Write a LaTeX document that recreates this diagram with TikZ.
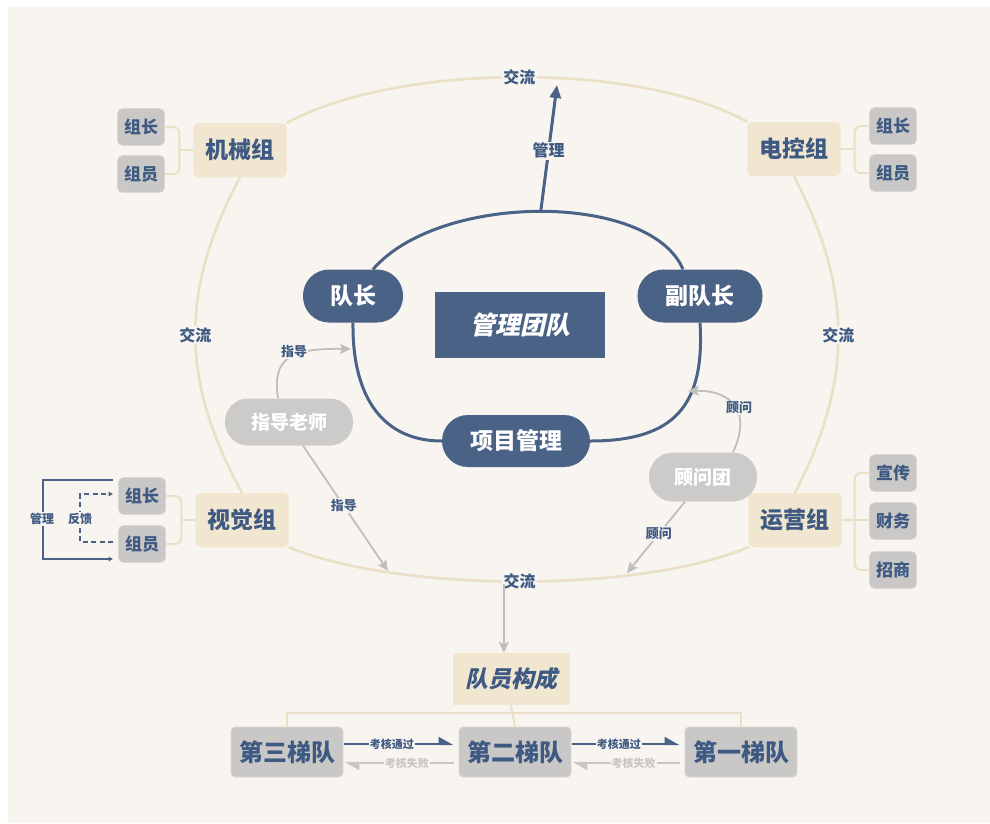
\documentclass[tikz,border=0pt]{standalone}
\usepackage{fontspec}
\setmainfont{Noto Sans CJK SC}
\newfontfamily\slcjk{Noto Sans CJK SC}[FakeSlant=0.22]
\usetikzlibrary{arrows.meta,calc}
\definecolor{bgc}{HTML}{F8F5F1}
\definecolor{navy}{HTML}{4B6287}
\definecolor{txtblue}{HTML}{3E5A82}
\definecolor{beigebox}{HTML}{F1E7D1}
\definecolor{beigeline}{HTML}{EAE0C6}
\definecolor{graybox}{HTML}{C9C8C6}
\definecolor{grayedge}{HTML}{DAD8D4}
\definecolor{graypill}{HTML}{CDCBCA}
\definecolor{grayline}{HTML}{BFBEBC}
\definecolor{faintgray}{HTML}{C8C6C3}
\newcommand{\fsz}[1]{\fontsize{#1}{#1}\selectfont}
\begin{document}
\begin{tikzpicture}[x=1pt,y=-1pt,
  grp/.style={fill=beigebox, rounded corners=5pt, minimum width=93pt, minimum height=54pt, inner sep=0pt, text=txtblue, font=\fsz{23}\bfseries},
  sub/.style={fill=graybox, draw=grayedge, line width=0.8pt, rounded corners=5pt, minimum width=47pt, minimum height=37pt, inner sep=0pt, text=txtblue, font=\fsz{17}\bfseries},
  pill/.style={fill=navy, rounded corners=26pt, minimum height=53pt, inner sep=0pt, text=white, font=\fsz{23}\bfseries},
  gpill/.style={fill=graypill, rounded corners=23pt, minimum height=47pt, inner sep=0pt, text=white, font=\fsz{19}\bfseries},
  tier/.style={fill=graybox, draw=grayedge, line width=0.8pt, rounded corners=4pt, minimum width=112pt, minimum height=50pt, inner sep=0pt, text=txtblue, font=\fsz{24}\bfseries},
  lbl/.style={fill=bgc, inner sep=1.5pt, text=txtblue, font=\fsz{16}\bfseries},
  slbl/.style={fill=bgc, inner sep=1.2pt, text=txtblue, font=\fsz{13}\bfseries},
  tlbl/.style={fill=bgc, inner sep=1pt, text=txtblue, font=\fsz{11}\bfseries},
  outer/.style={draw=beigeline, line width=2.6pt},
  brk/.style={draw=beigeline, line width=2pt, rounded corners=6pt},
  loopline/.style={draw=navy, line width=3pt},
  mgarrow/.style={draw=navy, line width=3pt, -{Triangle[length=13pt,width=11pt]}},
  garrow/.style={draw=grayline, line width=1.8pt, -{Stealth[length=11pt,width=10pt,inset=2.5pt]}},
  pass/.style={draw=navy, line width=2.2pt, -{Triangle[left,length=13pt,width=14pt]}},
  fail/.style={draw=faintgray, line width=2.2pt, -{Triangle[left,length=13pt,width=14pt]}},
  small/.style={draw=navy, line width=1.2pt, -{Triangle[length=4.5pt,width=4.5pt]}},
]
\useasboundingbox (0,0) rectangle (990,823);
\fill[white] (0,0) rectangle (990,823);
\fill[bgc] (8,7) rectangle (990,823);

% group nodes
\node[grp] (jx) at (240,150) {机械组};
\node[grp] (dk) at (794,149) {电控组};
\node[grp] (sj) at (242,520) {视觉组};
\node[grp] (yy) at (795,520) {运营组};

% outer ring
\draw[outer] (jx.north east) .. controls (400,62) and (640,62) .. (dk.north west)
   node[lbl, pos=0.5] {交流};
\draw[outer] (jx.south) .. controls (180,290) and (180,380) .. (sj.north)
   node[lbl, pos=0.5] {交流};
\draw[outer] (dk.south) .. controls (853,290) and (853,380) .. (yy.north)
   node[lbl, pos=0.5] {交流};
\draw[outer] (sj.south east) .. controls (400,593) and (640,593) .. (yy.south west)
   coordinate[pos=0.47] (jl) node[lbl, pos=0.5] {交流};

% redraw group boxes on top of ring
\node[grp] at (jx) {机械组};
\node[grp] at (dk) {电控组};
\node[grp] at (sj) {视觉组};
\node[grp] at (yy) {运营组};

% sub boxes
\node[sub] (jx1) at (141,127) {组长};
\node[sub] (jx2) at (141,174) {组员};
\node[sub] (dk1) at (893,126) {组长};
\node[sub] (dk2) at (893,173) {组员};
\node[sub] (sj1) at (142,496) {组长};
\node[sub] (sj2) at (142,544) {组员};
\node[sub] (yy1) at (893,473) {宣传};
\node[sub] (yy2) at (893,521) {财务};
\node[sub] (yy3) at (893,570) {招商};

% brackets
\draw[brk] (jx1.east) -| ([xshift=-14pt]jx.west) |- (jx2.east);
\draw[brk] (jx.west) -- ++(-14,0);
\draw[brk] (dk1.west) -| ([xshift=14pt]dk.east) |- (dk2.west);
\draw[brk] (dk.east) -- ++(14,0);
\draw[brk] (sj1.east) -| ([xshift=-14pt]sj.west) |- (sj2.east);
\draw[brk] (sj.west) -- ++(-14,0);
\draw[brk] (yy1.west) -| ([xshift=13pt]yy.east) |- (yy3.west);
\draw[brk] (yy.east) -- (yy.east -| yy2.west);

% management / feedback arrows at 视觉组
\coordinate (m1) at (113,480);
\coordinate (m2) at (113,559);
\coordinate (f1) at (113,494);
\coordinate (f2) at (113,542);
\draw[small] (m1) -| (43,520) |- (m2);
\draw[small, dashed, dash pattern=on 5pt off 3.5pt] (f2) -| (80,520) |- (f1);
\node[slbl, font=\fsz{12}\bfseries, inner sep=1pt] at (42,519) {管理};
\node[slbl, font=\fsz{12}\bfseries, inner sep=1pt] at (80,519) {反馈};

% central nodes
\node[pill, minimum width=100pt] (dz) at (353,296) {队长};
\node[pill, minimum width=125pt] (fdz) at (700,296) {副队长};
\node[pill, minimum width=148pt, minimum height=52pt] (xm) at (516,441) {项目管理};
\node[fill=navy, minimum width=170pt, minimum height=66pt, inner sep=0pt, text=white,
      font=\slcjk\bfseries\fsz{25}] (gl) at (520,325) {管理团队};

% loop
\draw[loopline] ([xshift=20pt]dz.north) .. controls (440,192) and (650,192) .. ([xshift=-17pt]fdz.north)
   coordinate[pos=0.5] (looptop);
\draw[loopline] (fdz.south) .. controls (705,405) and (675,441) .. (xm.east);
\draw[loopline] (dz.south) .. controls (352,400) and (385,441) .. (xm.west);

% 管理 arrow
\coordinate (mgtip) at (557,85);
\draw[mgarrow] (looptop) -- (mgtip) node[lbl, pos=0.48] {管理};

% grey pills
\node[gpill, minimum width=128pt] (zd) at (289,422) {指导老师};
\node[gpill, minimum width=108pt, minimum height=49pt, rounded corners=24pt] (gw) at (703,477) {顾问团};

% grey arrows
\coordinate (zdtip) at (351,349);
\draw[garrow] ([xshift=-11pt]zd.north) .. controls (272,358) and (290,348) .. (zdtip);
\node[slbl] at (294,352) {指导};
\coordinate (zdend) at (388,571);
\draw[garrow] ([xshift=14pt]zd.south) -- (zdend) node[slbl, pos=0.48] {指导};
\coordinate (gwtip) at (688,391);
\draw[garrow] ([xshift=30pt]gw.north) .. controls (752,412) and (732,390) .. (gwtip);
\node[slbl] at (739,408) {顾问};
\coordinate (gwend) at (627,573);
\draw[garrow] ([xshift=-18pt]gw.south) -- (gwend) node[slbl, pos=0.45] {顾问};

% team composition
\node[fill=beigebox, minimum width=117pt, minimum height=52pt, inner sep=0pt, text=txtblue,
      font=\slcjk\bfseries\fsz{23}] (team) at (511,679) {队员构成};
\draw[garrow] ([yshift=-3pt]jl) -- (jl |- team.north);

\node[tier] (t3) at (287,752) {第三梯队};
\node[tier] (t2) at (515,752) {第二梯队};
\node[tier] (t1) at (741,752) {第一梯队};

\draw[brk, rounded corners=0pt] (t3.north) -- ++(0,-14) -| (t1.north);
\draw[brk, rounded corners=0pt] (team.south) -- (t2.north);

% tier arrows
\draw[pass, shorten <=1pt, shorten >=5pt] ([yshift=8pt]t3.east) -- ([yshift=8pt]t2.west)
   node[tlbl, pos=0.42] {考核通过};
\draw[fail, shorten <=5pt, shorten >=1pt] ([yshift=-11pt]t2.west) -- ([yshift=-11pt]t3.east)
   node[tlbl, text=faintgray, pos=0.45] {考核失败};
\draw[pass, shorten <=1pt, shorten >=5pt] ([yshift=8pt]t2.east) -- ([yshift=8pt]t1.west)
   node[tlbl, pos=0.42] {考核通过};
\draw[fail, shorten <=5pt, shorten >=1pt] ([yshift=-11pt]t1.west) -- ([yshift=-11pt]t2.east)
   node[tlbl, text=faintgray, pos=0.45] {考核失败};
\end{tikzpicture}
\end{document}
